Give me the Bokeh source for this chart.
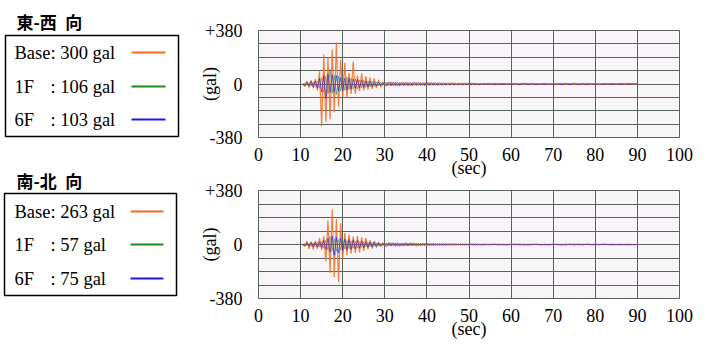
import numpy as np
from bokeh.plotting import figure
from bokeh.models import Range1d, FixedTicker
from bokeh.layouts import row, column
from bokeh.embed import file_html
from bokeh.resources import INLINE
from bokeh.core.properties import value

SERIF = "Liberation Serif"
AXIS_FONT = "'Liberation Serif'"
CJK = "Noto Sans CJK JP"

# ---------------- data ----------------
titles = ["東-西\u2002向", "南-北\u2002向"]
floors = ["Base", "1F", "6F"]
peaks = [[300, 106, 103], [263, 57, 75]]
colors = ["#f26b21", "#1f8a1f", "#1a1ae6"]

x_ticks = [0, 10, 20, 30, 40, 50, 60, 70, 80, 90, 100]
y_ticks = [-380, 0, 380]
y_tick_labels = {380: "+380", 0: "0", -380: "-380"}
y_grid = [-380, -285, -190, -95, 0, 95, 190, 285, 380]

# sampling grids (s): main 10.5-30 every 0.5, tail1 30.5-55 every 0.5, tail2 56-90 every 1
t_main = np.arange(10.5, 30.01, 0.5)
t_tail1 = np.arange(30.5, 55.01, 0.5)
t_tail2 = np.arange(56.0, 90.01, 1.0)

# East-West
ew_base_main = [0, -18, 22, -25, 28, -30, 35, -45, 90, -300,
                210, -270, 190, -250, 245, -200, 295, -160, 170, -90,
                150, -100, 80, -70, 160, -70, 60, -50, 75, -45,
                55, -40, 45, -35, 40, -30, 30, -22, 15, -10]
ew_base_tail1 = [12, -10, 14, -12, 10, -13, 11, -9, 12, -10,
                 9, -11, 10, -8, 9, -10, 8, -9, 7, -8,
                 9, -7, 8, -8, 7, -6, 8, -7, 6, -7,
                 6, -5, 7, -6, 5, -6, 5, -5, 6, -4,
                 5, -4, 4, -5, 3, -4, 4, -3, 3, -3]
ew_base_tail2 = [2, -2, 3, -2, 2, -3, 2, -2, 3, -3, 2, -2, 3, -2, 2, -3, 3, -2,
                 2, -2, 3, -3, 2, -2, 2, -3, 2, -2, 3, -2, 2, -2, 2, -1, 0]

ew_1f_main = [0, 8, -10, 12, -14, 15, -18, 22, -30, 45,
              -60, 55, -70, 106, -65, 60, -75, 55, -50, 48,
              -45, 50, -40, 42, -38, 35, -36, 30, -28, 26,
              -25, 22, -20, 18, -17, 15, -14, 12, -11, 8]
ew_1f_tail1 = [8, -8, 9, -7, 8, -8, 7, -7, 8, -6, 7, -7, 6, -6, 7, -6, 5, -6, 6, -5,
               5, -5, 6, -4, 5, -5, 4, -4, 5, -4, 4, -4, 3, -4, 3, -3, 4, -3, 3, -3,
               3, -2, 3, -2, 2, -3, 2, -2, 2, -2]
ew_1f_tail2 = [2, -1, 2, -2, 1, -2, 2, -1, 2, -2, 1, -1, 2, -2, 1, -1, 2, -1,
               1, -2, 1, -1, 2, -1, 1, -1, 1, -1, 1, -1, 1, -1, 1, -1, 0]

ew_6f_main = [0, -10, 12, -15, 18, -20, 22, -30, 40, -55,
              60, -103, 70, -60, 65, -55, 60, -50, 45, -48,
              40, -42, 38, -35, 36, -30, 32, -28, 26, -24,
              22, -20, 19, -18, 16, -15, 14, -12, 10, -8]
ew_6f_tail1 = [-14, 15, -13, 14, -12, 13, -14, 12, -13, 12,
               -12, 11, -12, 13, -11, 12, -10, 11, -12, 10,
               -10, 11, -9, 10, -10, 9, -9, 10, -8, 9,
               -8, 9, -8, 7, -8, 7, -7, 6, -7, 6,
               -5, 6, -5, 4, -5, 4, -4, 3, -3, 3]
ew_6f_tail2 = [-2, 2, -1, 2, -3, 4, -4, 5, -4, 4, -3, 2, -2, 2, -3, 4, -5, 5,
               -4, 5, -4, 4, -3, 3, -2, 2, -2, 3, -2, 2, -1, 1, -1, 1, 0]

# North-South
ns_base_main = [0, -15, 25, -30, 20, -35, 25, -30, 45, -40,
                60, -120, 170, -200, 246, -230, 180, -263, 150, -100,
                80, -75, 70, -65, 55, -60, 60, -55, 50, -45,
                45, -35, 30, -28, 25, -20, 15, -14, 12, -10]
ns_base_tail1 = [10, -9, 11, -8, 9, -10, 8, -9, 10, -8, 8, -7, 9, -8, 7, -8, 7, -6, 8, -7,
                 6, -6, 7, -5, 6, -6, 5, -5, 6, -4, 5, -4, 5, -4, 4, -4, 3, -4, 3, -3,
                 3, -3, 4, -3, 2, -3, 3, -2, 2, -2]
ns_base_tail2 = [2, -2, 1, -2, 2, -1, 2, -2, 1, -1, 2, -2, 1, -2, 2, -1, 1, -2,
                 2, -2, 3, -2, 2, -1, 1, -1, 2, -1, 1, -1, 1, -1, 1, -1, 0]

ns_1f_main = [0, 6, -8, 10, -12, 12, -14, 15, -18, 20,
              -25, 30, -40, 57, -45, 40, -48, 35, -38, 30,
              -32, 28, -30, 25, -26, 22, -24, 20, -21, 18,
              -18, 16, -15, 14, -13, 12, -10, 9, -8, 7]
ns_1f_tail1 = [7, -7, 8, -6, 7, -7, 6, -6, 7, -5, 6, -6, 5, -5, 6, -5, 4, -5, 5, -4,
               4, -4, 5, -3, 4, -4, 3, -3, 4, -3, 3, -3, 2, -3, 2, -2, 3, -2, 2, -2,
               2, -2, 2, -1, 2, -2, 1, -1, 1, -1]
ns_1f_tail2 = [1, -1, 1, -1, 1, -1, 1, -1, 1, -1, 1, -1, 1, -1, 1, -1, 1, -1,
               1, -1, 1, -1, 1, -1, 1, -1, 1, -1, 1, -1, 1, -1, 1, -1, 0]

ns_6f_main = [0, -8, 10, -12, 14, -15, 16, -18, 20, -22,
              28, -35, 45, -55, 60, -75, 50, -60, 45, -42,
              38, -36, 35, -34, 32, -30, 28, -26, 25, -23,
              22, -20, 18, -17, 16, -14, 13, -12, 10, -8]
ns_6f_tail1 = [-13, 14, -12, 13, -14, 12, -13, 11, -12, 13, -11, 12, -10, 11, -12, 10, -11, 10, -9, 10,
               -9, 8, -9, 8, -7, 8, -7, 6, -7, 6, -5, 6, -5, 5, -4, 5, -4, 4, -4, 3,
               -3, 4, -3, 3, -3, 2, -3, 2, -2, 2]
ns_6f_tail2 = [-1, 2, -1, 1, -2, 3, -3, 2, -2, 2, -1, 1, -1, 1, -2, 2, -3, 3,
               -2, 3, -2, 2, -1, 1, -1, 1, -1, 1, -1, 1, -1, 1, -1, 1, 0]

records = [
    [(ew_base_main, ew_base_tail1, ew_base_tail2),
     (ew_1f_main, ew_1f_tail1, ew_1f_tail2),
     (ew_6f_main, ew_6f_tail1, ew_6f_tail2)],
    [(ns_base_main, ns_base_tail1, ns_base_tail2),
     (ns_1f_main, ns_1f_tail1, ns_1f_tail2),
     (ns_6f_main, ns_6f_tail1, ns_6f_tail2)],
]

# ---------------- styles ----------------
GRID = "#59635d"
BG = "#f7f5f8"
FS = "18px"


def series(parts):
    m, a, b = parts
    t = np.concatenate([t_main[:len(m)], t_tail1[:len(a)], t_tail2[:len(b)]])
    v = np.concatenate([m, a, b]).astype(float)
    return t, v


def chart(idx, frame_h, top, bottom):
    p = figure(frame_width=421, frame_height=frame_h,
               x_range=Range1d(0, 100), y_range=Range1d(-380, 380),
               min_border_left=60, min_border_right=30,
               min_border_top=top, min_border_bottom=bottom,
               output_backend="svg", toolbar_location=None,
               background_fill_color=BG, border_fill_color="white")
    p.outline_line_color = GRID
    p.outline_line_width = 1
    p.xaxis.ticker = FixedTicker(ticks=x_ticks)
    p.yaxis.ticker = FixedTicker(ticks=y_ticks)
    p.yaxis.major_label_overrides = y_tick_labels
    p.xgrid.ticker = FixedTicker(ticks=x_ticks)
    p.ygrid.ticker = FixedTicker(ticks=y_grid)
    p.grid.grid_line_color = GRID
    p.grid.grid_line_width = 1
    p.grid.grid_line_alpha = 1
    for ax in (p.xaxis[0], p.yaxis[0]):
        ax.axis_line_color = None
        ax.major_tick_line_color = None
        ax.minor_tick_line_color = None
        ax.major_label_text_font = AXIS_FONT
        ax.major_label_text_font_size = FS
        ax.major_label_text_color = "black"
        ax.axis_label_text_font = AXIS_FONT
        ax.axis_label_text_font_size = FS
        ax.axis_label_text_font_style = "normal"
        ax.axis_label_text_color = "black"
    p.xaxis.major_label_standoff = 4
    p.yaxis.major_label_standoff = 10
    p.xaxis.axis_label = "(sec)"
    p.yaxis.axis_label = "(gal)"
    p.xaxis.axis_label_standoff = -6
    p.yaxis.axis_label_standoff = -18

    order = [1, 0, 2]
    widths = {0: 1.2, 1: 1.0, 2: 1.0}
    alphas = {0: 0.85, 1: 0.5, 2: 0.6}
    for k in order:
        t, v = series(records[idx][k])
        p.line(t, v, line_color=colors[k], line_width=widths[k], line_alpha=alphas[k])
    return p


# left panel (titles + legend boxes), pixel coordinates from top-left
LW, LH = 197, 342
lp = figure(width=LW, height=LH, x_range=Range1d(0, LW), y_range=Range1d(LH, 0),
            output_backend="svg", toolbar_location=None, min_border=0,
            x_axis_type=None, y_axis_type=None)
lp.outline_line_color = None
lp.grid.visible = False

title_y = [20.5, 180]
box_lr = [(5, 178), (4, 176)]
box_tb = [(35, 136), (193, 295)]
row_y = [[52, 86, 119], [211, 244, 278]]
line_x = [(131, 165), (130, 163)]
for i in range(2):
    lp.text(x=[16], y=[title_y[i]], text=[titles[i]], text_font=value(CJK),
            text_font_size="17px", text_font_style="bold", text_baseline="middle",
            text_color="black")
    lp.quad(left=[box_lr[i][0]], right=[box_lr[i][1]], top=[box_tb[i][0]], bottom=[box_tb[i][1]],
            fill_color=None, line_color="black", line_width=1.5)
    for k in range(3):
        if k == 0:
            lp.text(x=[14], y=[row_y[i][k]], text=[f"{floors[k]}: {peaks[i][k]} gal"],
                    text_font=value(SERIF), text_font_size="18.5px",
                    text_baseline="middle", text_color="black")
        else:
            lp.text(x=[14], y=[row_y[i][k]], text=[floors[k]],
                    text_font=value(SERIF), text_font_size="18.5px",
                    text_baseline="middle", text_color="black")
            lp.text(x=[50], y=[row_y[i][k]], text=[f": {peaks[i][k]} gal"],
                    text_font=value(SERIF), text_font_size="18.5px",
                    text_baseline="middle", text_color="black")
        lp.line(x=list(line_x[i]), y=[row_y[i][k], row_y[i][k]],
                line_color=colors[k], line_width=2)

p1 = chart(0, 107, 30, 41)
p2 = chart(1, 108, 10, 46)

layout = row(lp, column(p1, p2, spacing=0), spacing=0)
open("out.html", "w").write(file_html(layout, INLINE))
